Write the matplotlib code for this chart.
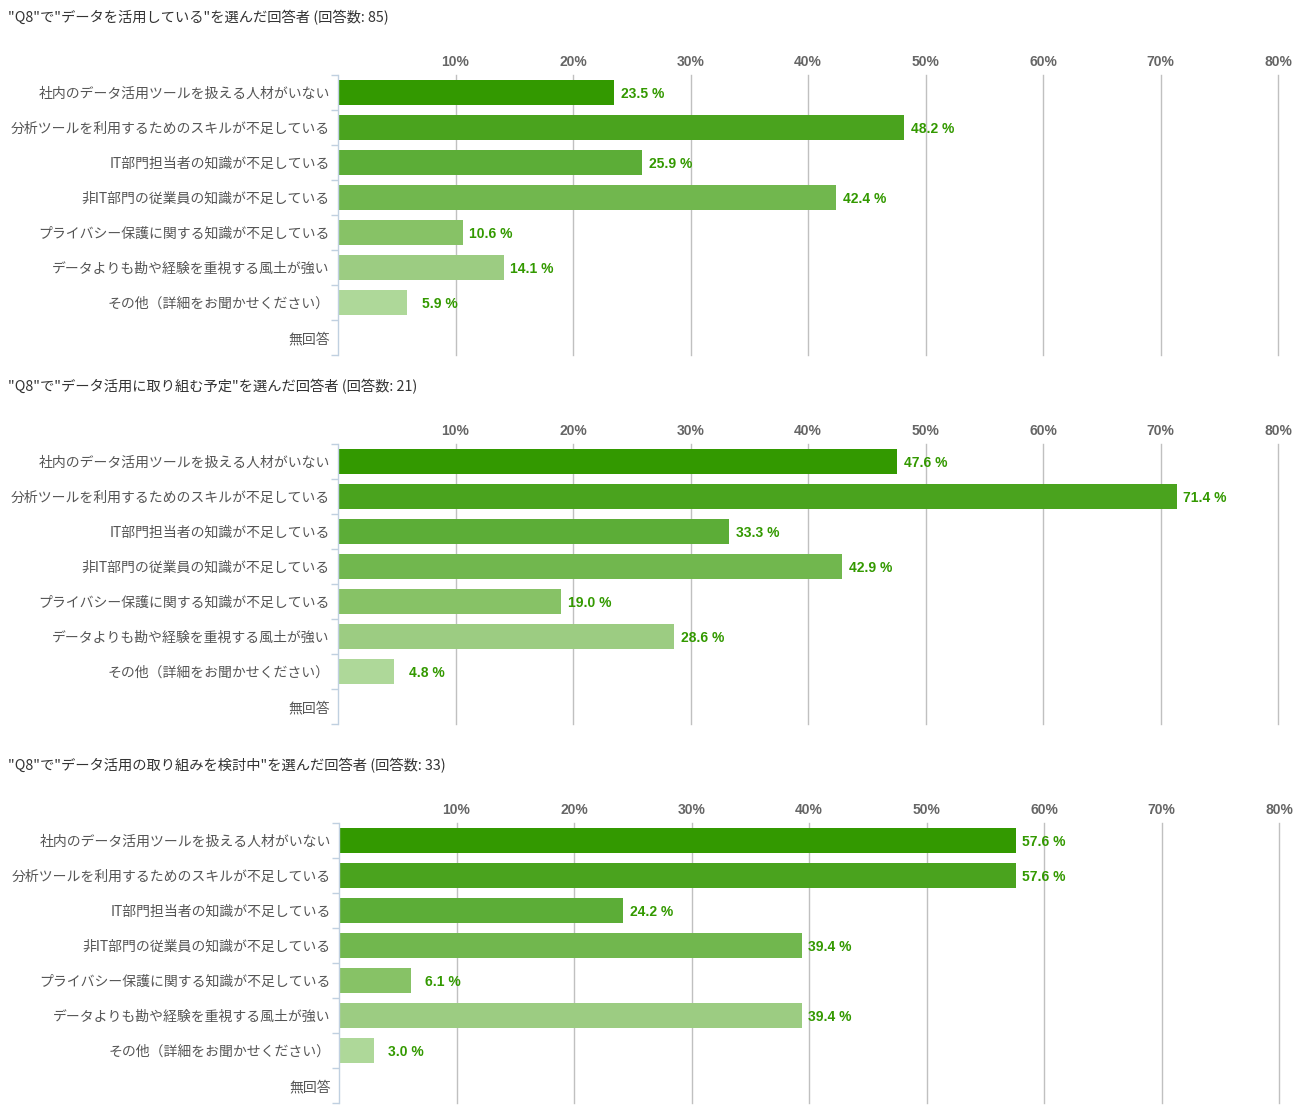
import matplotlib
matplotlib.use('Agg')
import matplotlib.pyplot as plt

plt.rcParams['font.family'] = ['Noto Sans CJK JP', 'DejaVu Sans']

# データ
categories = [
    '社内のデータ活用ツールを扱える人材がいない',
    '分析ツールを利用するためのスキルが不足している',
    'IT部門担当者の知識が不足している',
    '非IT部門の従業員の知識が不足している',
    'プライバシー保護に関する知識が不足している',
    'データよりも勘や経験を重視する風土が強い',
    'その他（詳細をお聞かせください）',
    '無回答',
]
titles = [
    '"Q8"で"データを活用している"を選んだ回答者 (回答数: 85)',
    '"Q8"で"データ活用に取り組む予定"を選んだ回答者 (回答数: 21)',
    '"Q8"で"データ活用の取り組みを検討中"を選んだ回答者 (回答数: 33)',
]
values_1 = [23.5, 48.2, 25.9, 42.4, 10.6, 14.1, 5.9, None]
values_2 = [47.6, 71.4, 33.3, 42.9, 19.0, 28.6, 4.8, None]
values_3 = [57.6, 57.6, 24.2, 39.4, 6.1, 39.4, 3.0, None]
tick_values = [10, 20, 30, 40, 50, 60, 70, 80]

bar_colors = ['#339900', '#4aa31e', '#5cad37', '#71b74e', '#87c266', '#9ccc82', '#aed899', '#c4e3b3']

W, H = 1304, 1119
fig = plt.figure(figsize=(W / 100, H / 100), dpi=100)

# パネルの位置 (px): left, top, right, bottom
panels = [
    (338, 75, 1278, 355, values_1, titles[0], 18),
    (338, 444, 1278, 724, values_2, titles[1], 387),
    (339, 823, 1279, 1103, values_3, titles[2], 766),
]

for left, top, right, bottom, vals, title, title_y in panels:
    ax = fig.add_axes([left / W, 1 - bottom / H, (right - left) / W, (bottom - top) / H])
    n = len(categories)
    ax.set_xlim(0, 80)
    ax.set_ylim(n - 0.5, -0.5)

    for i, v in enumerate(vals):
        if v is None:
            continue
        ax.barh(i, v, height=0.69, color=bar_colors[i], zorder=3)
        ax.text(v + 4.25, i + 0.03, f'{v:.1f} %', ha='right', va='center',
                fontsize=10, fontweight='bold', color='#339900',
                family=['Liberation Sans', 'DejaVu Sans'], zorder=4)

    # グリッド
    for t in tick_values:
        ax.axvline(t, color='#c0c0c0', lw=1, zorder=1, clip_on=False)

    # 上部の目盛りラベル
    ax.set_xticks(tick_values)
    ax.set_xticklabels([f'{t}%' for t in tick_values])
    ax.xaxis.tick_top()
    ax.tick_params(axis='x', length=0, pad=4, labelsize=10, labelcolor='#666666')
    for lbl in ax.get_xticklabels():
        lbl.set_fontweight('bold')
        lbl.set_family(['Liberation Sans', 'DejaVu Sans'])

    # カテゴリーラベル
    ax.set_yticks(range(n))
    ax.set_yticklabels(categories, va='center_baseline')
    ax.tick_params(axis='y', which='major', length=0, pad=6, labelsize=10, labelcolor='#555555')
    ax.set_yticks([i + 0.5 for i in range(-1, n)], minor=True)
    ax.tick_params(axis='y', which='minor', length=5, color='#c0d0e0', width=1)

    for s in ['top', 'right', 'bottom']:
        ax.spines[s].set_visible(False)
    ax.spines['left'].set_color('#c0d0e0')
    ax.spines['left'].set_linewidth(1)
    ax.spines['left'].set_zorder(5)

    fig.text(8 / W, 1 - title_y / H, title, ha='left', va='center',
             fontsize=10.3, color='#333333')

fig.savefig('out.png', dpi=100)
